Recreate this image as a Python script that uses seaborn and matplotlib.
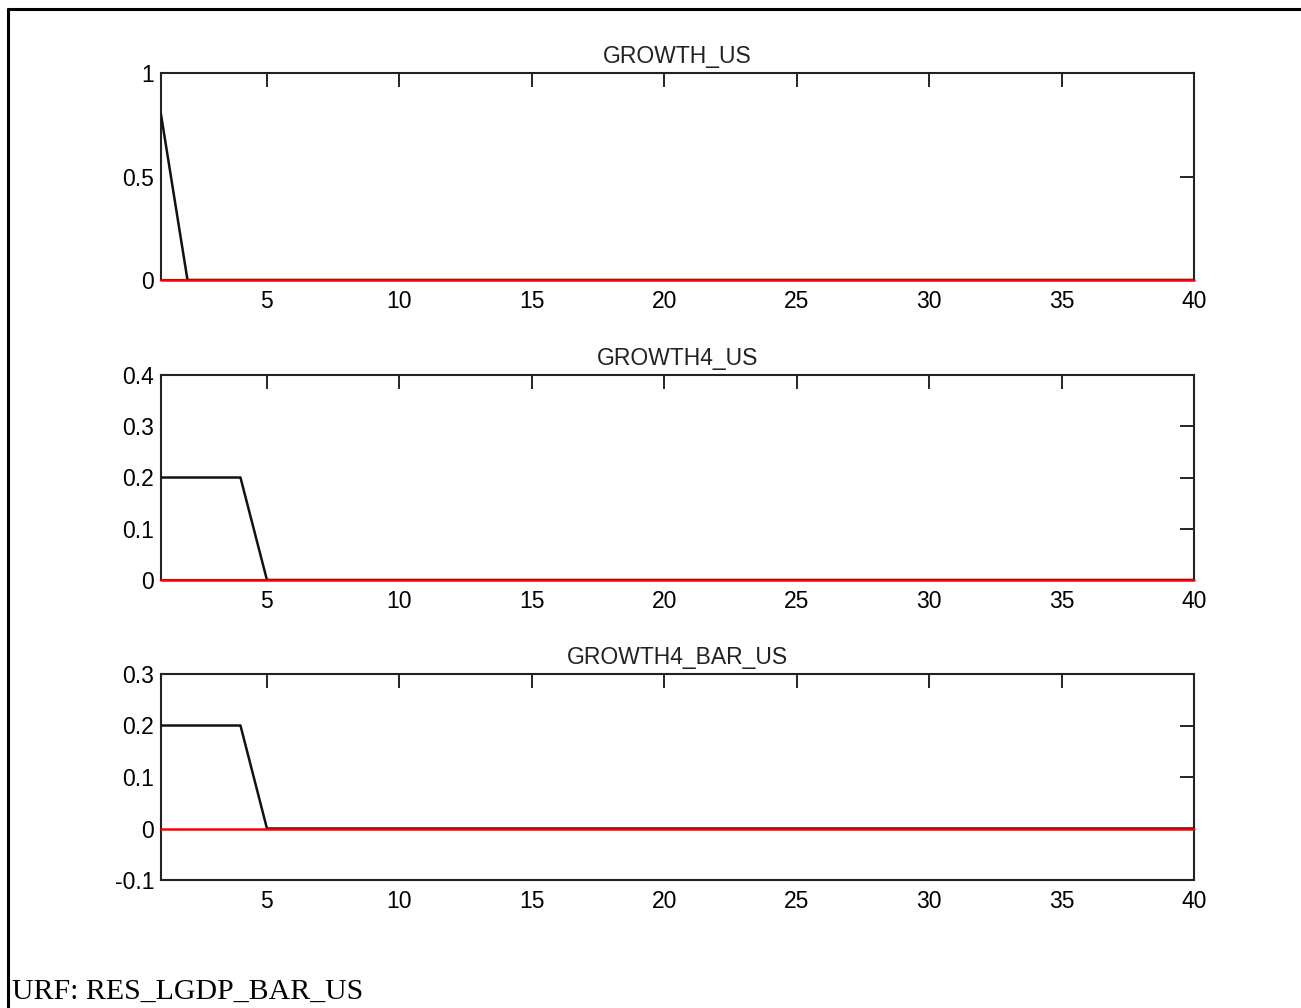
import numpy as np
import pandas as pd
import matplotlib
matplotlib.use("Agg")
import matplotlib.pyplot as plt
from matplotlib.lines import Line2D
import seaborn as sns

# Data
periods = list(range(1, 41))
growth_us = [0.8] + [0.0] * 39
growth4_us = [0.2, 0.2, 0.2, 0.2] + [0.0] * 36
growth4_bar_us = [0.2, 0.2, 0.2, 0.2] + [0.0] * 36
baseline = [0.0] * 40

titles = ["GROWTH_US", "GROWTH4_US", "GROWTH4_BAR_US"]
series = [growth_us, growth4_us, growth4_bar_us]
ylims = [(0, 1), (0, 0.4), (-0.1, 0.3)]
yticks = [[0, 0.5, 1], [0, 0.1, 0.2, 0.3, 0.4], [-0.1, 0, 0.1, 0.2, 0.3]]
yticklabels = [["0", "0.5", "1"], ["0", "0.1", "0.2", "0.3", "0.4"],
               ["-0.1", "0", "0.1", "0.2", "0.3"]]
xticks = [5, 10, 15, 20, 25, 30, 35, 40]
caption = "URF: RES_LGDP_BAR_US"

sns.set_theme(style="white")
plt.rcParams["font.family"] = ["Liberation Sans", "DejaVu Sans"]

W, H = 1301, 1008
fig = plt.figure(figsize=(W / 100, H / 100), dpi=100)

# axes boxes in pixels: (left, top, right, bottom)
boxes = [(161, 73, 1194, 280), (161, 375, 1194, 580), (161, 674, 1194, 880)]

for (l, t, r, b), title, vals, yl, yt, ytl in zip(boxes, titles, series, ylims, yticks, yticklabels):
    ax = fig.add_axes([l / W, 1 - b / H, (r - l) / W, (b - t) / H])
    df = pd.DataFrame({"period": periods, "value": vals, "base": baseline})
    sns.lineplot(data=df, x="period", y="value", ax=ax, color="#111111", linewidth=1.8,
                 zorder=3)
    sns.lineplot(data=df, x="period", y="base", ax=ax, color="red", linewidth=1.8,
                 zorder=5, clip_on=False)
    ax.set_xlim(1, 40)
    ax.set_ylim(*yl)
    ax.set_xticks(xticks)
    ax.set_xticklabels([str(v) for v in xticks])
    ax.set_yticks(yt)
    ax.set_yticklabels(ytl)
    ax.set_xlabel("")
    ax.set_ylabel("")
    ax.set_title(title, fontsize=16.5, pad=7, color="#222222")
    ax.tick_params(direction="in", length=10, width=1.2, top=True, right=True,
                   labelsize=16.5, colors="black")
    ax.tick_params(axis="x", pad=7)
    ax.tick_params(axis="y", pad=5)
    for s in ax.spines.values():
        s.set_visible(True)
        s.set_color("#222222")
        s.set_linewidth(1.5)
        s.set_zorder(2)

# page border (left and top edges)
fig.add_artist(Line2D([8 / W, 8 / W], [0, 1 - 9 / H], transform=fig.transFigure,
                      color="black", linewidth=2.2))
fig.add_artist(Line2D([8 / W, 1], [1 - 9 / H, 1 - 9 / H], transform=fig.transFigure,
                      color="black", linewidth=2.2))

fig.text(12 / W, 1 - 999 / H, caption, family=["Liberation Serif", "DejaVu Serif"],
         fontsize=21.5, va="baseline", ha="left", color="black")

fig.savefig("out.png", dpi=100, facecolor="white")
